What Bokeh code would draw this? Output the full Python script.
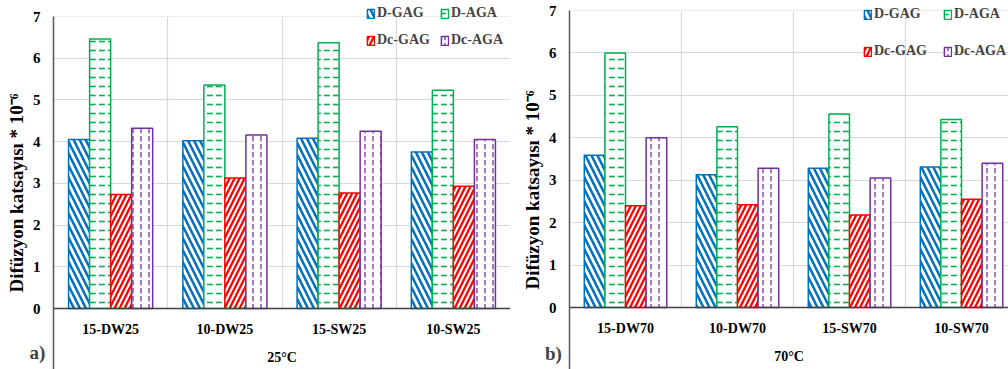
from bokeh.plotting import figure
from bokeh.layouts import row
from bokeh.models import (Range1d, FixedTicker, Legend, LegendItem, Label, ColumnDataSource,
                          BoxAnnotation)
from bokeh.embed import file_html
from bokeh.resources import INLINE

# ---- data ----
series = ["D-GAG", "D-AGA", "Dc-GAG", "Dc-AGA"]
cats_a = ["15-DW25", "10-DW25", "15-SW25", "10-SW25"]
cats_b = ["15-DW70", "10-DW70", "15-SW70", "10-SW70"]
vals_a = {
    "D-GAG":  [4.05, 4.02, 4.08, 3.75],
    "D-AGA":  [6.46, 5.36, 6.37, 5.23],
    "Dc-GAG": [2.73, 3.13, 2.77, 2.93],
    "Dc-AGA": [4.32, 4.16, 4.25, 4.05],
}
vals_b = {
    "D-GAG":  [3.59, 3.13, 3.28, 3.31],
    "D-AGA":  [6.00, 4.26, 4.56, 4.43],
    "Dc-GAG": [2.40, 2.42, 2.18, 2.55],
    "Dc-AGA": [4.00, 3.28, 3.05, 3.40],
}
y_ticks = [0, 1, 2, 3, 4, 5, 6, 7]

colors = {"D-GAG": "#0070C0", "D-AGA": "#00B050", "Dc-GAG": "#FF0000", "Dc-AGA": "#7030A0"}
hatches = {"D-GAG": "left_diagonal_line", "D-AGA": "horizontal_dash",
           "Dc-GAG": "right_diagonal_line", "Dc-AGA": "vertical_dash"}
hweights = {"D-GAG": 2.5, "D-AGA": 1.6, "Dc-GAG": 2.3, "Dc-AGA": 1.3}
hscales = {"D-GAG": 12, "D-AGA": 9, "Dc-GAG": 10, "Dc-AGA": 8}

FONT = "Liberation Serif"
BW = 0.184


def make_panel(cats, vals, xlabel, tag, width, x0px, xunit, y7px, y0px, leg_pos, row_gap,
               tag_px, lab_w):
    H = 369
    yunit = (y0px - y7px) / y_ticks[-1]
    xr = Range1d(-x0px / xunit, (width - x0px) / xunit)
    yr = Range1d(-(H - y0px) / yunit, y_ticks[-1] + y7px / yunit)
    p = figure(width=width, height=H, output_backend="svg", toolbar_location=None,
               x_range=xr, y_range=yr, min_border=0,
               min_border_left=0, min_border_right=0, min_border_top=0, min_border_bottom=0)
    p.outline_line_color = None
    p.background_fill_color = "white"
    n = len(cats)
    # grid
    p.xgrid.ticker = FixedTicker(ticks=list(range(n + 1)))
    p.ygrid.ticker = FixedTicker(ticks=y_ticks)
    p.grid.grid_line_color = "#D9D9D9"
    p.grid.grid_line_width = 1.2
    # mask grid outside the plotting area (0..n, 0..7)
    for kw in (dict(right=0), dict(bottom=y_ticks[-1]), dict(top=0)):
        p.add_layout(BoxAnnotation(fill_color="white", fill_alpha=1, line_color=None,
                                   level="underlay", **kw))
    renderers = {}
    for i, s in enumerate(series):
        xs = [k + 0.5 + (i - 1.5) * BW for k in range(n)]
        src = ColumnDataSource(dict(x=xs, top=vals[s]))
        r = p.vbar(x="x", top="top", width=BW, source=src, fill_color="white",
                   line_color=colors[s], line_width=1.5,
                   hatch_pattern=hatches[s], hatch_color=colors[s],
                   hatch_weight=hweights[s], hatch_scale=hscales[s])
        renderers[s] = r
    # axes drawn at data positions
    xa, ya = p.xaxis[0], p.yaxis[0]
    xa.fixed_location = 0
    ya.fixed_location = 0
    xa.bounds = (0, n)
    ya.bounds = (yr.start, y_ticks[-1])
    xa.ticker = FixedTicker(ticks=[k + 0.5 for k in range(n)])
    xa.major_label_overrides = {k + 0.5: c for k, c in enumerate(cats)}
    ya.ticker = FixedTicker(ticks=y_ticks)
    for ax in (xa, ya):
        ax.major_tick_line_color = None
        ax.minor_tick_line_color = None
        ax.major_label_text_font = FONT
        ax.major_label_text_font_style = "bold"
        ax.major_label_text_font_size = "15px"
        ax.major_label_text_color = "black"
        ax.axis_label_text_font = FONT
        ax.axis_label_text_font_style = "bold"
        ax.axis_label_text_color = "black"
    xa.axis_line_color = "#404040"
    xa.axis_line_width = 1.5
    ya.axis_line_color = "#595959"
    ya.axis_line_width = 1.5
    xa.major_label_text_font_size = "14px"
    xa.major_label_standoff = 7
    xa.axis_label = xlabel
    xa.axis_label_text_font_size = "14px"
    xa.axis_label_standoff = 10
    ya.axis_label = "Difüzyon katsayısı * 10⁻⁶"
    ya.axis_label_text_font_size = "19px"
    ya.major_label_standoff = 7
    ya.axis_label_standoff = 3
    # legends (two rows, aligned columns)
    rows = [["D-GAG", "D-AGA"], ["Dc-GAG", "Dc-AGA"]]
    vx, vy = leg_pos
    for j, rr in enumerate(rows):
        leg = Legend(items=[LegendItem(label=s, renderers=[renderers[s]]) for s in rr],
                     location=(vx, vy - j * row_gap), orientation="horizontal",
                     glyph_width=9, glyph_height=11, label_standoff=2, label_width=lab_w,
                     spacing=3, padding=0, margin=0, border_line_color=None,
                     background_fill_alpha=0, label_text_font=FONT,
                     label_text_font_style="bold", label_text_font_size="14px",
                     label_height=20)
        p.add_layout(leg, "center")
    tx, ty = tag_px
    p.add_layout(Label(x=(tx - x0px) / xunit, y=(y0px - ty) / yunit, text=tag,
                       text_font=FONT, text_font_style="bold",
                       text_font_size="19px", text_align="center", text_baseline="middle"))
    return p


p1 = make_panel(cats_a, vals_a, "25°C", "a)", 510, 53, 114.25, 16, 308, (366, 346), 27,
                (37, 352), 60)
p2 = make_panel(cats_b, vals_b, "70°C", "b)", 498, 59, 112.0, 10, 307, (353, 345), 37,
                (43, 353), 66)

layout = row(p1, p2)
open("out.html", "w").write(file_html(layout, INLINE))
